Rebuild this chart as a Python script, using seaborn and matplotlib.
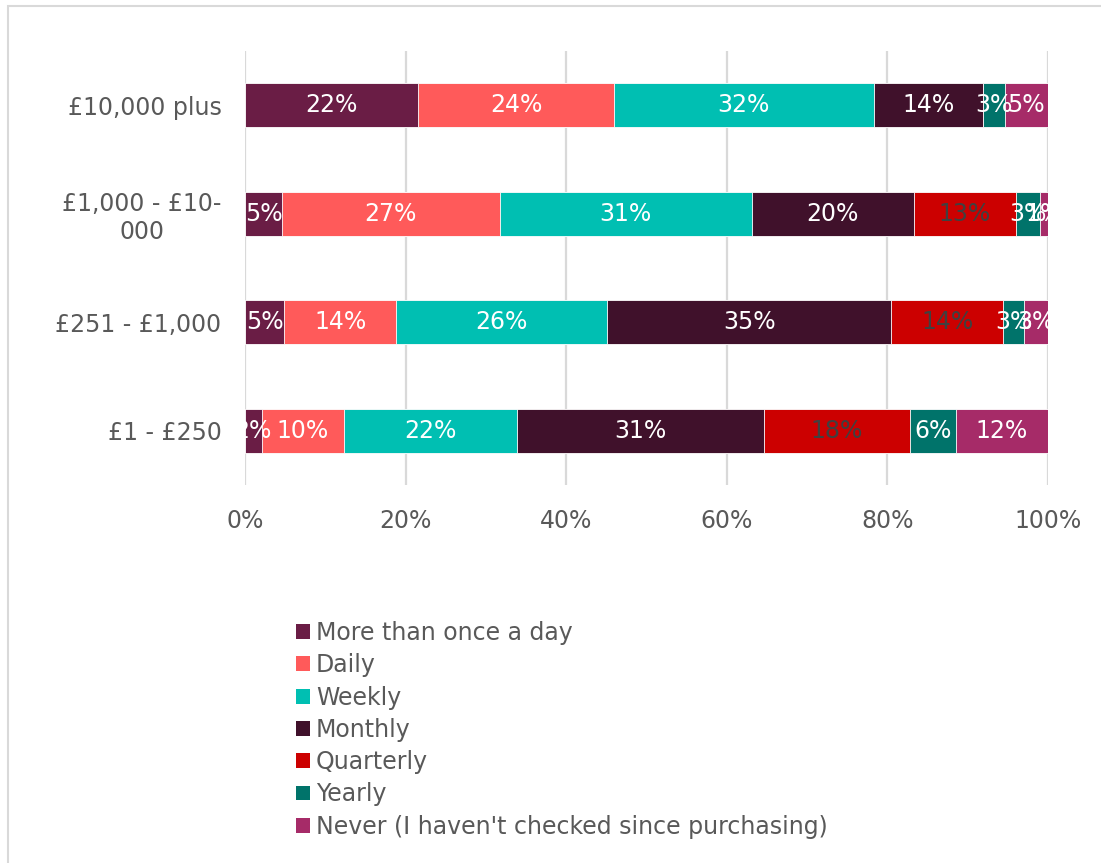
import matplotlib
matplotlib.use("Agg")
import matplotlib.pyplot as plt
from matplotlib.patches import Patch, Rectangle
import numpy as np
import pandas as pd
import seaborn as sns

# Bands of amount invested (top to bottom)
bands = ["£10,000 plus", "£1,000 - £10-\n000", "£251 - £1,000", "£1 - £250"]

# How often investors check, share of respondents (%) per band
more_than_once_a_day = [21.6, 4.6, 4.9, 2.1]
daily = [24.3, 27.1, 13.9, 10.2]
weekly = [32.4, 31.4, 26.3, 21.6]
monthly = [13.6, 20.2, 35.4, 30.7]
quarterly = [0.0, 12.7, 13.9, 18.2]
yearly = [2.7, 3.0, 2.6, 5.7]
never = [5.4, 1.0, 3.0, 11.5]

series_names = ["More than once a day", "Daily", "Weekly", "Monthly",
                "Quarterly", "Yearly", "Never (I haven't checked since purchasing)"]
series_values = [more_than_once_a_day, daily, weekly, monthly, quarterly, yearly, never]
series_colors = ["#6A1D45", "#FF5A5A", "#00BFB2", "#40112B", "#CC0000", "#00736A", "#A62B68"]
label_colors = ["white", "white", "white", "white", "#404040", "white", "white"]

x_ticks = [0, 20, 40, 60, 80, 100]

sns.set_theme(style="white")
plt.rcParams["font.family"] = ["DejaVu Sans"]
text_grey = "#595959"
fs = 17

fig = plt.figure(figsize=(11.01, 8.63), dpi=100)
ax = fig.add_axes([245 / 1101, 1 - 485 / 863, 803 / 1101, 434 / 863])

# Long-form table of cumulative totals so each stacked segment is an overlay
rows = []
for i, (name, vals) in enumerate(zip(series_names, series_values)):
    for b, v in zip(bands, vals):
        rows.append({"band": b, "series": name, "value": v})
df = pd.DataFrame(rows)
wide = df.pivot(index="band", columns="series", values="value").loc[bands, series_names]
cum = wide.cumsum(axis=1)

for name, color in reversed(list(zip(series_names, series_colors))):
    sub = pd.DataFrame({"band": bands, "total": cum[name].values})
    sns.barplot(data=sub, y="band", x="total", order=bands, color=color,
                orient="h", width=0.41, saturation=1, edgecolor="white",
                linewidth=0.6, ax=ax)

# Percentage labels at the middle of each segment
for j, (name, lc) in enumerate(zip(series_names, label_colors)):
    for i, b in enumerate(bands):
        v = wide.loc[b, name]
        if v <= 0:
            continue
        start = cum.loc[b, name] - v
        ax.text(start + v / 2, i, f"{v:.0f}%", ha="center", va="center",
                color=lc, fontsize=fs)

ax.set_xlim(0, 100)
ax.set_ylim(len(bands) - 0.5, -0.5)
ax.set_xticks(x_ticks)
ax.set_xticklabels([f"{t}%" for t in x_ticks])
ax.set_xlabel("")
ax.set_ylabel("")
ax.xaxis.grid(True, color="#D9D9D9", linewidth=1.6)
ax.set_axisbelow(True)
for s in ax.spines.values():
    s.set_visible(False)
ax.tick_params(axis="x", length=0, pad=17, labelsize=fs, labelcolor=text_grey)
ax.tick_params(axis="y", length=0, pad=17, labelsize=fs, labelcolor=text_grey)
for lab in ax.get_yticklabels():
    lab.set_multialignment("center")

# Legend below the plot, one entry per line
handles = [Patch(facecolor=c, edgecolor="none") for c in series_colors]
fig.legend(handles, series_names, loc="upper left",
           bbox_to_anchor=(296 / 1101, 1 - 621 / 863), frameon=False,
           fontsize=fs, labelcolor=text_grey, handlelength=0.6,
           handleheight=0.6, handletextpad=0.25, labelspacing=0.35,
           borderpad=0, borderaxespad=0)

# Light chart border
fig.patches.append(Rectangle((8 / 1101, -0.05), 1.1, 1 - 6 / 863 + 0.05,
                             transform=fig.transFigure, fill=False,
                             edgecolor="#D9D9D9", linewidth=1.5))

fig.savefig("out.png", dpi=100, facecolor="white")
